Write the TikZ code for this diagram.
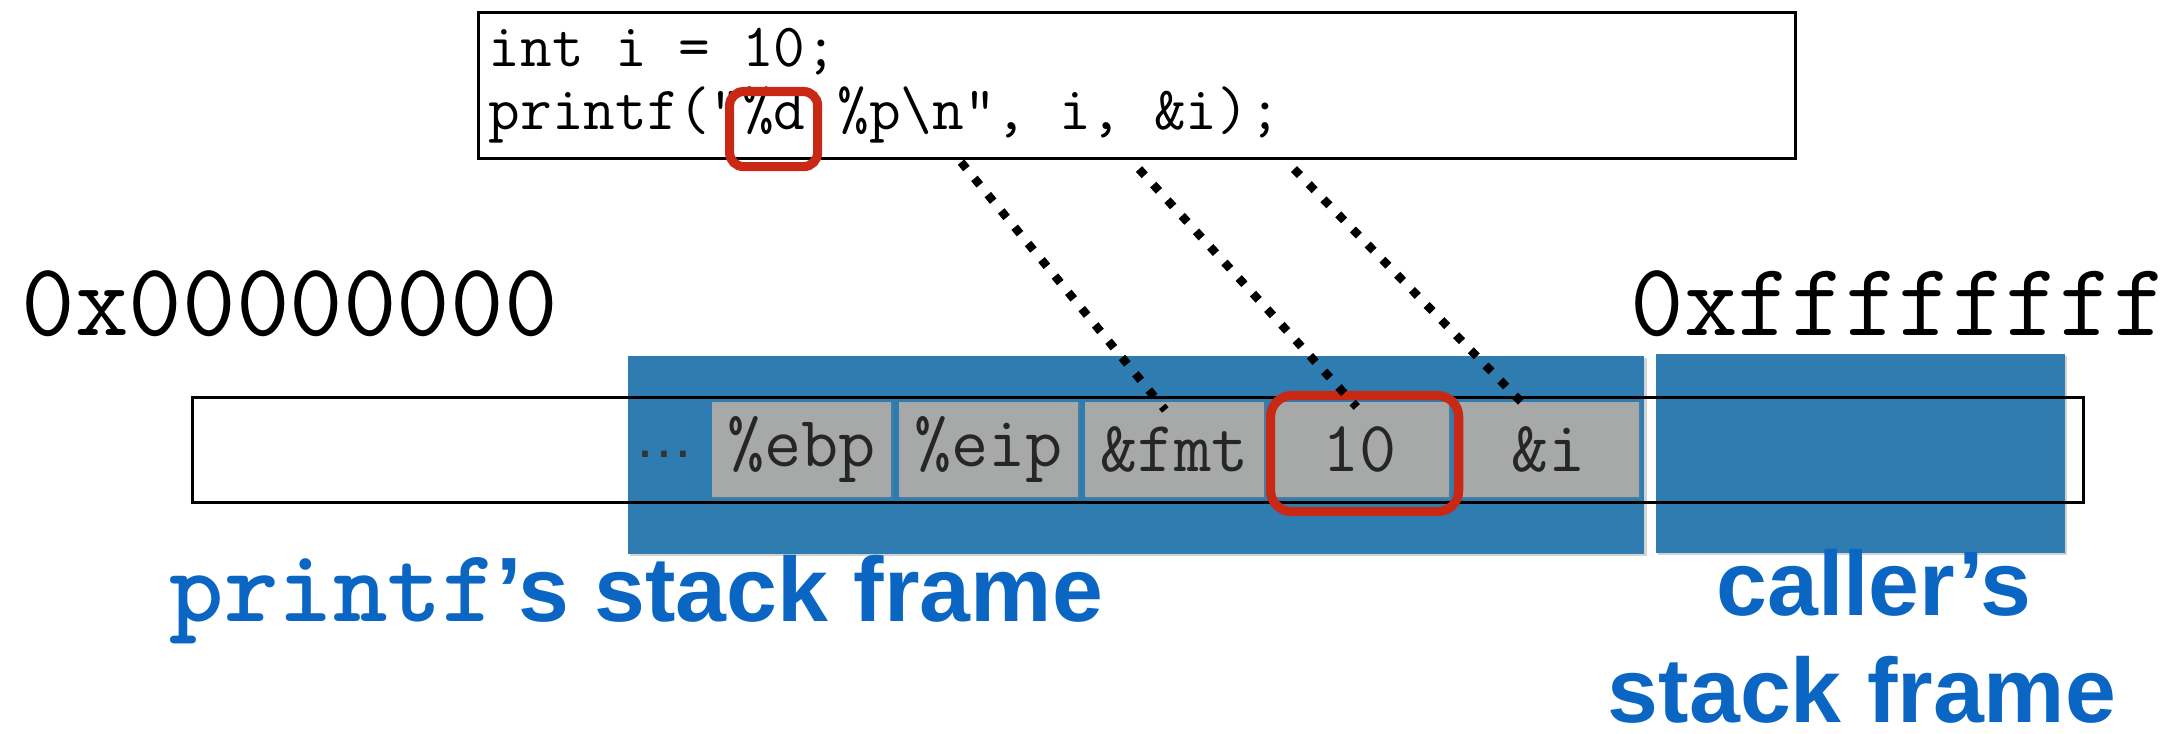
\documentclass[tikz,border=0pt]{standalone}
\usepackage{fontspec}
\setmainfont{Liberation Sans}
\usetikzlibrary{calc,shadows}
\definecolor{frameblue}{RGB}{46,124,176}
\definecolor{labelblue}{RGB}{10,102,194}
\definecolor{cellgray}{RGB}{166,169,168}
\definecolor{hlred}{RGB}{200,40,20}
\begin{document}
\begin{tikzpicture}[x=0.01cm,y=-0.01cm,
  frame/.style={fill=frameblue, draw=none, inner sep=0, anchor=north west,
    drop shadow={opacity=0.35,shadow xshift=0.7pt,shadow yshift=-0.7pt}},
  cell/.style={fill=cellgray, inner sep=0, anchor=north west, minimum height=0.95cm,
    font=\ttfamily\fontsize{20.5pt}{24pt}\selectfont, text=black!85,
    drop shadow={opacity=0.3,shadow xshift=0.5pt,shadow yshift=-0.5pt}},
  hl/.style={draw=hlred, line width=2.6pt, inner sep=0, anchor=north west},
  outline/.style={draw=black, line width=0.85pt, inner sep=0, anchor=north west},
  dotline/.style={line width=2.4pt, dash pattern=on 2.4pt off 3.6pt},
  codetext/.style={anchor=base west, inner sep=0, font=\ttfamily\fontsize{17.5pt}{20pt}\selectfont},
  addr/.style={anchor=base west, inner sep=0, font=\ttfamily\fontsize{29.6pt}{32pt}\selectfont},
  label/.style={inner sep=0, text=labelblue, font=\bfseries\fontsize{26pt}{30pt}\selectfont}]
\useasboundingbox (0,0) rectangle (2173,734);

% stack frames
\node[frame, minimum width=10.16cm, minimum height=1.98cm] (pframe) at (627,355) {};
\node[frame, minimum width=4.09cm, minimum height=1.99cm] (cframe) at (1655,353) {};

% memory outline
\node[outline, minimum width=18.90cm, minimum height=1.05cm] (mem) at (191,396) {};

% cells
\node[cell, minimum width=1.79cm] (ebp) at (711,401) {\%ebp};
\node[cell, minimum width=1.79cm] (eip) at (898,401) {\%eip};
\node[cell, minimum width=1.79cm] (fmt) at (1084,401) {\&fmt};
\node[cell, minimum width=1.78cm] (ten) at (1270,401) {10};
\node[cell, minimum width=1.81cm] (icell) at (1457,401) {\&i};
\node[anchor=base, inner sep=0, text=black!80, font=\fontsize{17pt}{20pt}\selectfont] (dots) at (664,458) {…};

% code box
\node[outline, minimum width=13.16cm, minimum height=1.46cm] (code) at (477,11) {};
\node[codetext] (l1) at (488,67) {int i = 10;};
\node[codetext] (l2) at (488,130) {printf("\%d \%p\textbackslash n", i, \&i);};

% highlights
\node[hl, rounded corners=4pt, minimum width=0.88cm, minimum height=0.75cm] (pd) at (725,87) {};
\node[hl, rounded corners=6pt, minimum width=1.88cm, minimum height=1.16cm] (tenhl) at (1266,391) {};

% connectors
\draw[dotline] ($(code.south west)+(484,2)$) -- ($(fmt.north)+(-9,9)$);
\draw[dotline] ($(code.south west)+(662,9)$) -- ($(ten.north)+(-3,6)$);
\draw[dotline] ($(code.south west)+(817,9)$) -- ($(icell.north)+(-26,2)$);

% addresses
\node[addr] (lo) at (21,336) {0x00000000};
\node[addr] (hi) at (1630,336) {0xffffffff};

% labels
\node[label, anchor=base west] (plab) at (169,622) {{\ttfamily\bfseries\fontsize{29.5pt}{30pt}\selectfont printf}’s stack frame};
\node[label, anchor=base] (clab1) at (1874,616) {caller’s};
\node[label, anchor=base, text depth=0pt] (clab2) at (1862,722) {stack frame};
\end{tikzpicture}
\end{document}
